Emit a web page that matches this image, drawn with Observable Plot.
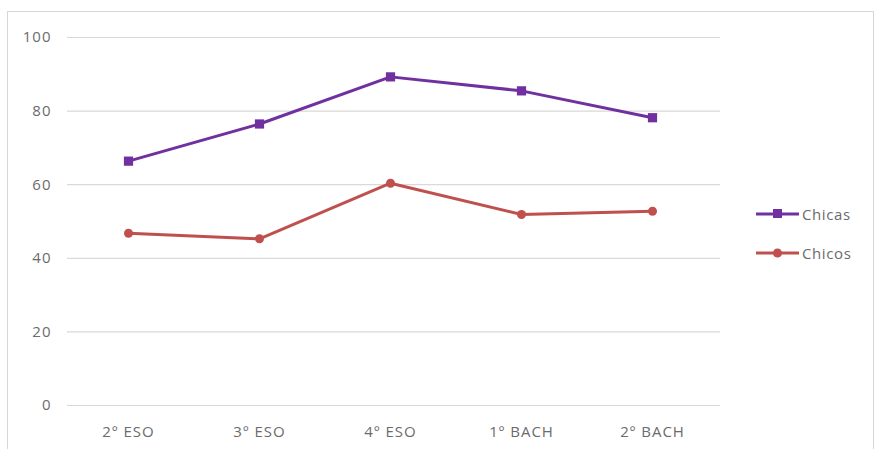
<!DOCTYPE html>
<html>
<head>
<meta charset="utf-8">
<script src="https://cdn.jsdelivr.net/npm/d3@7"></script>
<script src="https://cdn.jsdelivr.net/npm/@observablehq/plot@0.6"></script>
<style>
  html, body { margin: 0; padding: 0; background: #fff; }
  #wrap { position: relative; width: 876px; height: 449px; overflow: hidden; font-family: "Open Sans", "Liberation Sans", sans-serif; }
  #frame { position: absolute; left: 7px; top: 11px; width: 867px; height: 450px; border: 1px solid #d6d6d6; box-sizing: border-box; }
  #chart { position: absolute; left: 0; top: 0; }
  #chart text { letter-spacing: 1px; }
  #legend { position: absolute; left: 756px; top: 194px; font-size: 15px; letter-spacing: 0.6px; color: #6b6b6b; }
  #legend .item { display: flex; align-items: center; height: 39px; }
  #legend .item span { margin-left: 3px; }
</style>
</head>
<body>
<div id="wrap">
  <div id="frame"></div>
  <div id="chart"></div>
  <div id="legend"></div>
</div>
<script>
// Grade levels on the x axis
const grados = ["2º ESO", "3º ESO", "4º ESO", "1º BACH", "2º BACH"];
// Series values per grade
const chicas = [66.4, 76.5, 89.3, 85.5, 78.2];
const chicos = [46.8, 45.3, 60.4, 51.9, 52.8];
// Series names, colours and marker symbols
const series = ["Chicas", "Chicos"];
const colores = ["#7030a0", "#c0504d"];
const simbolos = ["square", "circle"];
// Y axis tick values
const yTicks = [0, 20, 40, 60, 80, 100];

const rows = [
  ...grados.map((g, i) => ({grado: g, valor: chicas[i], serie: "Chicas"})),
  ...grados.map((g, i) => ({grado: g, valor: chicos[i], serie: "Chicos"}))
];

const textColor = "#6b6b6b";

const chart = Plot.plot({
  width: 876,
  height: 449,
  marginLeft: 67,
  marginRight: 156,
  marginTop: 37,
  marginBottom: 44,
  style: {fontFamily: "'Open Sans', 'Liberation Sans', sans-serif", fontSize: "15px", color: textColor, background: "transparent"},
  x: {type: "point", domain: grados, padding: 0, insetLeft: 61, insetRight: 68, label: null},
  y: {domain: [0, 100], label: null},
  color: {domain: series, range: colores},
  symbol: {domain: series, range: simbolos},
  marks: [
    Plot.ruleY(yTicks, {stroke: "#d9d9d9", strokeWidth: 1.2}),
    Plot.axisY({ticks: yTicks, tickSize: 0, tickPadding: 16, fill: textColor, fontSize: 15}),
    Plot.axisX({tickSize: 0, tickPadding: 21, fill: textColor, fontSize: 15}),
    Plot.line(rows, {x: "grado", y: "valor", z: "serie", stroke: "serie", strokeWidth: 3, strokeLinejoin: "round"}),
    Plot.dot(rows.filter(d => d.serie === "Chicas"), {x: "grado", y: "valor", symbol: "serie", fill: "serie", r: 5.2, stroke: null}),
    Plot.dot(rows.filter(d => d.serie === "Chicos"), {x: "grado", y: "valor", symbol: "serie", fill: "serie", r: 4.5, stroke: null})
  ]
});
document.getElementById("chart").appendChild(chart);

// Legend: line sample with marker, then series name
const legend = d3.select("#legend");
series.forEach((s, i) => {
  const item = legend.append("div").attr("class", "item");
  const svg = item.append("svg").attr("width", 43).attr("height", 14);
  svg.append("line").attr("x1", 0).attr("x2", 43).attr("y1", 7).attr("y2", 7)
    .attr("stroke", colores[i]).attr("stroke-width", 3);
  if (simbolos[i] === "square") {
    svg.append("rect").attr("x", 17).attr("y", 2).attr("width", 9).attr("height", 9).attr("fill", colores[i]);
  } else {
    svg.append("circle").attr("cx", 21.5).attr("cy", 7).attr("r", 4.5).attr("fill", colores[i]);
  }
  item.append("span").text(s);
});
</script>
</body>
</html>
